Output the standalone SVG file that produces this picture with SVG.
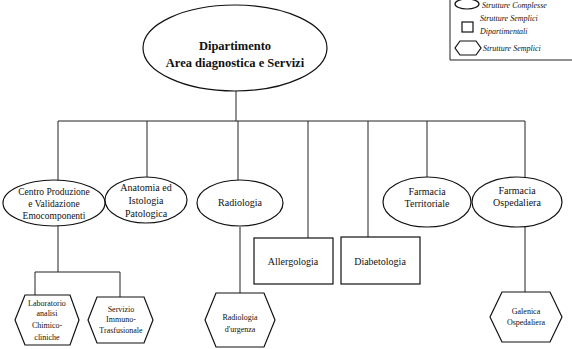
<svg xmlns="http://www.w3.org/2000/svg" width="572" height="349" viewBox="0 0 572 349">
<style>
.s{fill:#fff;stroke:#111;stroke-width:1.2}
.c{fill:none;stroke:#222;stroke-width:1}
text{font-family:"Liberation Serif","Times New Roman",serif;fill:#111;text-anchor:middle}
.t{font-size:10px}
.t9{font-size:9.5px}
.h{font-size:8px}
.b{font-size:12.5px;font-weight:bold}
.l{font-size:8px;font-style:italic;text-anchor:start}
</style>
<rect width="572" height="349" fill="#fff"/>
<g id="legend">
<path d="M450,0 V60 H572" fill="none" stroke="#222" stroke-width="1"/>
<ellipse class="s" cx="467" cy="4" rx="12" ry="5"/>
<text class="l" x="482" y="8">Strutture Complesse</text>
<rect class="s" x="462" y="22" width="11" height="10"/>
<text class="l" x="480" y="21">Strutture Semplici</text>
<text class="l" x="480" y="34">Dipartimentali</text>
<polygon class="s" points="460,41 476,41 481,48 476,55 460,55 455,48"/>
<text class="l" x="483" y="51">Strutture Semplici</text>
</g>
<g id="connectors">
<path class="c" d="M236,90 V121 M58,121 H525 M58,121 V182 M147,121 V178 M238,121 V180 M308,121 V238 M368,121 V237 M427,121 V177 M525,121 V177"/>
<path class="c" d="M58,225 V272 M35,272 H120 M35,272 V295 M120,272 V297"/>
<path class="c" d="M240,227 V293"/>
<path class="c" d="M525,227 V292"/>
</g>
<g id="dipartimento">
<ellipse class="s" cx="235" cy="48" rx="92" ry="43"/>
<text class="b" x="235" y="50">Dipartimento</text>
<text class="b" x="235" y="67">Area diagnostica e Servizi</text>
</g>
<g id="centro">
<ellipse class="s" cx="54" cy="203" rx="51" ry="23"/>
<text class="t9" x="54" y="195">Centro Produzione</text>
<text class="t9" x="54" y="207">e Validazione</text>
<text class="t9" x="54" y="219">Emocomponenti</text>
</g>
<g id="anatomia">
<ellipse class="s" cx="146" cy="200" rx="41" ry="23"/>
<text class="t" x="146" y="191">Anatomia ed</text>
<text class="t" x="146" y="204">Istologia</text>
<text class="t" x="146" y="217">Patologica</text>
</g>
<g id="radiologia">
<ellipse class="s" cx="240" cy="203" rx="43" ry="23"/>
<text class="t" x="240" y="206">Radiologia</text>
</g>
<g id="allergologia">
<rect class="s" x="254" y="238" width="79" height="46"/>
<text class="t" x="293" y="265">Allergologia</text>
</g>
<g id="diabetologia">
<rect class="s" x="341" y="237" width="79" height="47"/>
<text class="t" x="380" y="265">Diabetologia</text>
</g>
<g id="farmacia-territoriale">
<ellipse class="s" cx="427" cy="202" rx="44" ry="25"/>
<text class="t" x="427" y="195">Farmacia</text>
<text class="t" x="427" y="207">Territoriale</text>
</g>
<g id="farmacia-ospedaliera">
<ellipse class="s" cx="517" cy="202" rx="45" ry="25"/>
<text class="t" x="517" y="194">Farmacia</text>
<text class="t" x="517" y="206">Ospedaliera</text>
</g>
<g id="laboratorio">
<polygon class="s" points="25,295 70,295 79,320 70,345 25,345 15,320"/>
<text class="h" x="47" y="306">Laboratorio</text>
<text class="h" x="47" y="316">analisi</text>
<text class="h" x="47" y="328">Chimico-</text>
<text class="h" x="47" y="340">cliniche</text>
</g>
<g id="servizio">
<polygon class="s" points="97,297 144,297 153,320 144,343 97,343 88,320"/>
<text class="h" x="121" y="312">Servizio</text>
<text class="h" x="121" y="322">Immuno-</text>
<text class="h" x="121" y="333">Trasfusionale</text>
</g>
<g id="radiologia-urgenza">
<polygon class="s" points="216,293 264,293 275,320 264,347 216,347 205,320"/>
<text class="h" x="240" y="320">Radiologia</text>
<text class="h" x="240" y="332">d'urgenza</text>
</g>
<g id="galenica">
<polygon class="s" points="502,292 550,292 562,317 550,342 502,342 490,317"/>
<text class="h" x="526" y="314">Galenica</text>
<text class="h" x="526" y="325">Ospedaliera</text>
</g>
</svg>
